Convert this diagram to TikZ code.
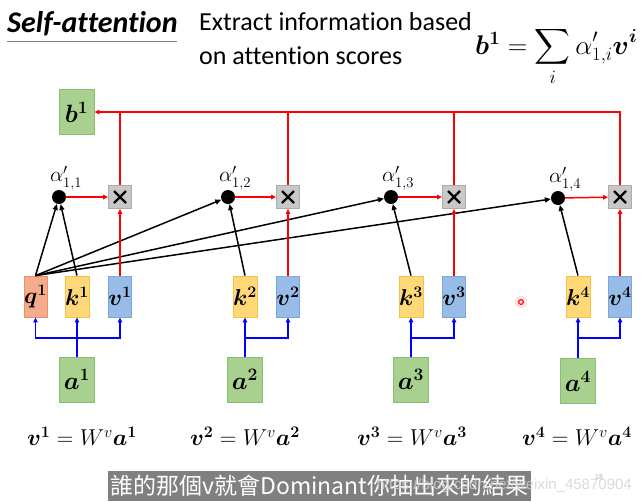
\RequirePackage{fix-cm}
\documentclass[tikz,border=0pt]{standalone}
\usepackage{amsmath,bm}
\usepackage[no-math]{fontspec}
\setmainfont{Carlito}[Ligatures={NoCommon}]
\newfontfamily\cjkfont{Noto Sans CJK TC}
\newfontfamily\wmfont{Liberation Sans}
\usetikzlibrary{arrows.meta}
\definecolor{qfill}{RGB}{244,172,140}
\definecolor{qdraw}{RGB}{238,140,100}
\definecolor{kfill}{RGB}{255,216,120}
\definecolor{kdraw}{RGB}{246,192,70}
\definecolor{vfill}{RGB}{152,188,232}
\definecolor{vdraw}{RGB}{125,165,218}
\definecolor{gfill}{RGB}{168,208,142}
\definecolor{gdraw}{RGB}{140,188,112}
\definecolor{xfill}{RGB}{200,200,200}
\definecolor{xdraw}{RGB}{172,172,172}
\definecolor{subbg}{RGB}{128,128,128}
\definecolor{lred}{RGB}{255,0,0}
\begin{document}
\begin{tikzpicture}[x=1pt,y=-1pt,
  vecbox/.style={minimum width=23pt,minimum height=41pt,inner sep=0pt,line width=0.8pt,font=\fontsize{23}{26}\selectfont},
  qbox/.style={vecbox,fill=qfill,draw=qdraw},
  kbox/.style={vecbox,fill=kfill,draw=kdraw},
  vbox/.style={vecbox,fill=vfill,draw=vdraw},
  gbox/.style={minimum width=35pt,minimum height=45pt,inner sep=0pt,line width=0.8pt,fill=gfill,draw=gdraw,font=\fontsize{25}{28}\selectfont},
  mulbox/.style={minimum size=23pt,inner sep=0pt,line width=0.8pt,fill=xfill,draw=xdraw,
    path picture={\draw[line width=2.2pt,black]
      ([shift={(5.5pt,5.5pt)}]path picture bounding box.south west) --
      ([shift={(-5.5pt,-5.5pt)}]path picture bounding box.north east);
      \draw[line width=2.2pt,black]
      ([shift={(5.5pt,-5.5pt)}]path picture bounding box.north west) --
      ([shift={(-5.5pt,5.5pt)}]path picture bounding box.south east);}},
  dotn/.style={circle,fill=black,minimum size=14pt,inner sep=0pt},
  alab/.style={font=\fontsize{21}{24}\selectfont},
  eqlab/.style={font=\fontsize{23}{26}\selectfont},
  redline/.style={draw=lred,line width=1.5pt},
  redarr/.style={redline,-{Triangle[length=5pt,width=4.5pt]}},
  blkarr/.style={black,line width=1.5pt,-{Triangle[length=6pt,width=5pt]}},
  bluearr/.style={blue,line width=1.8pt,-{Triangle[length=5pt,width=4.5pt]}}
]
\useasboundingbox (0,0) rectangle (642,501);
\fill[white] (0,0) rectangle (642,501);

% title and header
\node[anchor=base west,inner sep=0pt,font=\fontsize{30}{32}\selectfont\bfseries\itshape] (title) at (7,32) {Self-attention};
\draw[gray,line width=1pt] (7,41) -- (177,41);
\node[anchor=base west,inner sep=0pt,font=\fontsize{26}{28}\selectfont] (sub1) at (199,30) {Extract information based};
\node[anchor=base west,inner sep=0pt,font=\fontsize{26}{28}\selectfont] (sub2) at (199,64) {on attention scores};
\node[anchor=base west,inner sep=0pt,font=\fontsize{27}{30}\selectfont] (formula) at (475,54) {$\bm{b}^{\mathbf{1}}=\displaystyle\sum_{i}\alpha'_{1,i}\bm{v}^{\bm{i}}$};

% output
\node[gbox] (b1) at (76.5,112) {$\bm{b}^{\mathbf{1}}$};

% q k v
\node[qbox] (q1) at (35.5,296.5) {$\bm{q}^{\mathbf{1}}$};
\node[kbox] (k1) at (77,296.5) {$\bm{k}^{\mathbf{1}}$};
\node[vbox] (v1) at (120,296.5) {$\bm{v}^{\mathbf{1}}$};
\node[kbox] (k2) at (245,296.5) {$\bm{k}^{\mathbf{2}}$};
\node[vbox] (v2) at (288,296.5) {$\bm{v}^{\mathbf{2}}$};
\node[kbox] (k3) at (411,296.5) {$\bm{k}^{\mathbf{3}}$};
\node[vbox] (v3) at (454,296.5) {$\bm{v}^{\mathbf{3}}$};
\node[kbox] (k4) at (578,296.5) {$\bm{k}^{\mathbf{4}}$};
\node[vbox] (v4) at (620,296.5) {$\bm{v}^{\mathbf{4}}$};

% inputs
\node[gbox] (a1) at (77,379.5) {$\bm{a}^{\mathbf{1}}$};
\node[gbox] (a2) at (245,379.5) {$\bm{a}^{\mathbf{2}}$};
\node[gbox] (a3) at (411,379.5) {$\bm{a}^{\mathbf{3}}$};
\node[gbox] (a4) at (578,381) {$\bm{a}^{\mathbf{4}}$};

% dots and multipliers
\node[dotn] (d1) at (59,197) {};
\node[dotn] (d2) at (228,197) {};
\node[dotn] (d3) at (391,197) {};
\node[dotn] (d4) at (558,198) {};
\node[alab] (l1) at (66,178) {$\alpha'_{1,1}$};
\node[alab] (l2) at (235,178) {$\alpha'_{1,2}$};
\node[alab] (l3) at (398,178) {$\alpha'_{1,3}$};
\node[alab] (l4) at (565,179) {$\alpha'_{1,4}$};
\node[mulbox] (m1) at (120,197) {};
\node[mulbox] (m2) at (288,197) {};
\node[mulbox] (m3) at (454,197) {};
\node[mulbox] (m4) at (620,197) {};

% equations
\node[eqlab] (e1) at (82,436) {$\bm{v}^{\mathbf{1}}=W^{v}\bm{a}^{\mathbf{1}}$};
\node[eqlab] (e2) at (245,436) {$\bm{v}^{\mathbf{2}}=W^{v}\bm{a}^{\mathbf{2}}$};
\node[eqlab] (e3) at (412,436) {$\bm{v}^{\mathbf{3}}=W^{v}\bm{a}^{\mathbf{3}}$};
\node[eqlab] (e4) at (577,436) {$\bm{v}^{\mathbf{4}}=W^{v}\bm{a}^{\mathbf{4}}$};

% blue connectors
\coordinate (hb) at (0,338);
\coordinate (j1) at (a1.north |- hb);
\coordinate (j2) at (a2.north |- hb);
\coordinate (j3) at (a3.north |- hb);
\coordinate (j4) at (a4.north |- hb);
\draw[bluearr] (a1.north) -- (k1.south);
\draw[bluearr] (j1) -| (q1.south);
\draw[bluearr] (j1) -| (v1.south);
\draw[bluearr] (a2.north) -- (k2.south);
\draw[bluearr] (j2) -| (v2.south);
\draw[bluearr] (a3.north) -- (k3.south);
\draw[bluearr] (j3) -| (v3.south);
\draw[bluearr] (a4.north) -- (k4.south);
\draw[bluearr] (j4) -| (v4.south);

% black connectors
\draw[blkarr] (q1.north) -- (d1);
\draw[blkarr] (k1.north) -- (d1);
\draw[blkarr] (q1.north) -- (d2);
\draw[blkarr] (q1.north) -- (d3);
\draw[blkarr] (q1.north) -- (d4);
\draw[blkarr] (k2.north) -- (d2);
\draw[blkarr] (k3.north) -- (d3);
\draw[blkarr] (k4.north) -- (d4);

% red connectors
\draw[redarr] (v1.north) -- (m1.south);
\draw[redarr] (v2.north) -- (m2.south);
\draw[redarr] (v3.north) -- (m3.south);
\draw[redarr] (v4.north) -- (m4.south);
\draw[redarr] (d1) -- (m1);
\draw[redarr] (d2) -- (m2);
\draw[redarr] (d3) -- (m3);
\draw[redarr] (d4) -- (m4);
\draw[redarr] (m4.north) |- (b1.east);
\draw[redline] (m1.north) -- (m1.north |- b1.east);
\draw[redline] (m2.north) -- (m2.north |- b1.east);
\draw[redline] (m3.north) -- (m3.north |- b1.east);

% laser pointer
\fill[red!20,opacity=0.6] (521,302) circle (6pt);
\draw[red,line width=1.1pt] (521,302) circle (2.4pt);

% subtitle overlay and watermark
\fill[subbg] (108,471) rectangle (531,501);
\node[inner sep=0pt,text=white,font=\cjkfont\fontsize{23}{26}\selectfont] (subtitle) at (319.5,486) {誰的那個v就會Dominant你抽出來的結果};
\node[anchor=base east,inner sep=0pt,text=gray!35,opacity=0.8,font=\wmfont\fontsize{15}{17}\selectfont] (wm) at (632,489) {https://blog.csdn.net/weixin\_45870904};
\node[inner sep=0pt,text=gray!60,font=\wmfont\fontsize{7}{8}\selectfont] (pg) at (599,477) {18};
\end{tikzpicture}
\end{document}
